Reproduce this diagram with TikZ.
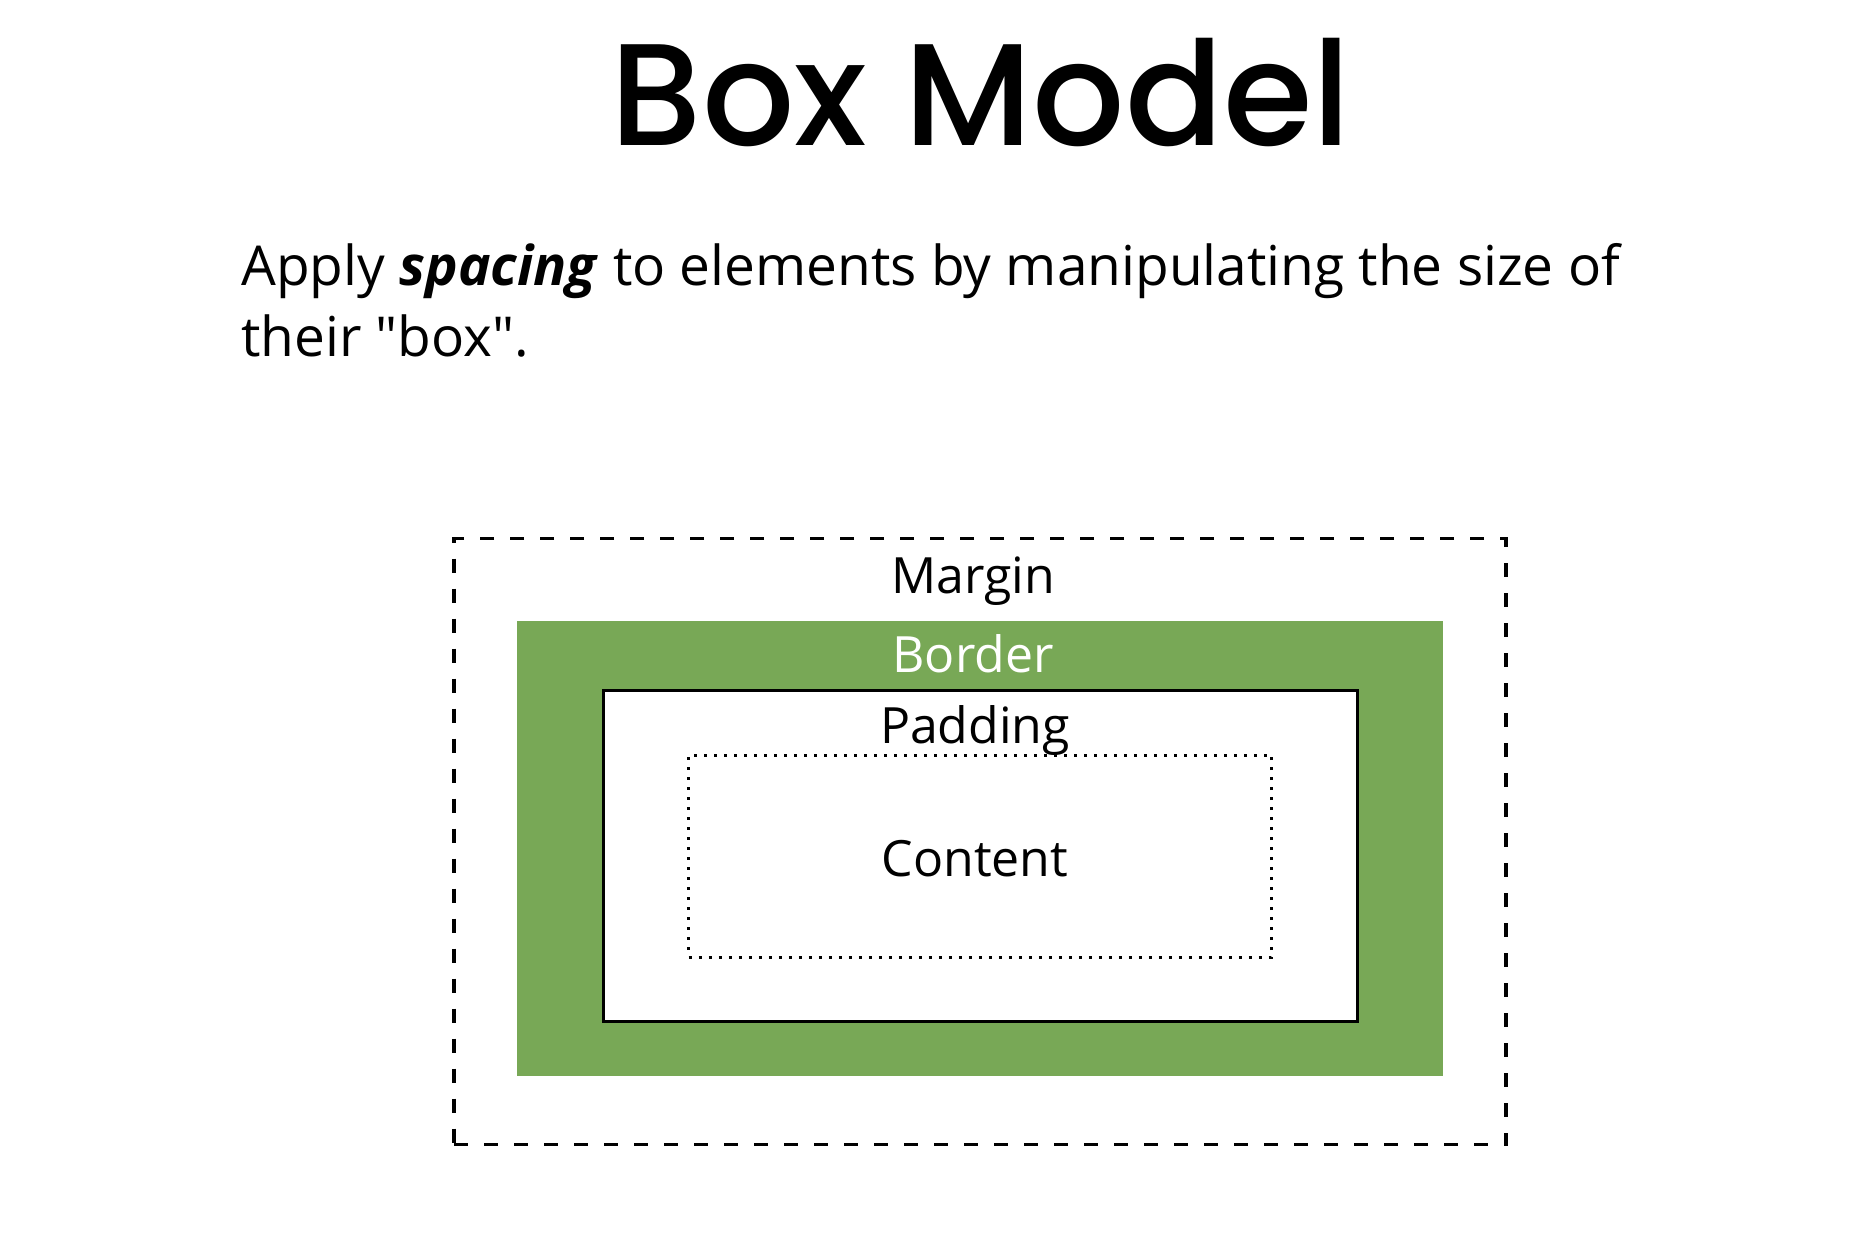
\documentclass[tikz,border=0pt]{standalone}
\usepackage{fontspec}
\setmainfont{Open Sans}
\newfontfamily\titlefont{Poppins Medium}
\definecolor{bordergreen}{RGB}{120,168,86}
\begin{document}
\begin{tikzpicture}[x=1pt,y=-1pt,
  boxlabel/.style={font=\fontsize{50}{52}\selectfont, anchor=base, inner sep=0pt},
  layer/.style={rectangle, inner sep=0pt}]
\useasboundingbox[fill=white] (0,0) rectangle (1864,1234);

% heading and lead paragraph
\node[anchor=base, inner sep=0pt, font=\titlefont\fontsize{145}{150}\selectfont] (title) at (981,145) {Box Model};
\node[anchor=base west, inner sep=0pt, align=left, font=\fontsize{55}{71}\selectfont] (lead) at (241,356)
  {Apply \textbf{\textit{spacing}} to elements by manipulating the size of\\their \textquotedbl box\textquotedbl.};

% nested layers of the box model
\node[layer, draw=black, line width=3.5pt, dash pattern=on 14pt off 16pt,
      minimum width=1052pt, minimum height=606pt] (margin) at (980,841.5) {};
\node[layer, fill=bordergreen, minimum width=926pt, minimum height=455pt] (border) at (980,848) {};
\node[layer, fill=white, draw=black, line width=3pt,
      minimum width=754pt, minimum height=331pt] (padding) at (980,856) {};
\node[layer, draw=black, line width=3pt, dash pattern=on 3pt off 7pt,
      minimum width=583pt, minimum height=202pt] (content) at (980,856) {};

% layer names
\node[boxlabel] (marginlabel) at (973,593) {Margin};
\node[boxlabel, text=white] (borderlabel) at (973,672) {Border};
\node[boxlabel] (paddinglabel) at (975,743) {Padding};
\node[boxlabel] (contentlabel) at (975,876) {Content};
\end{tikzpicture}
\end{document}
